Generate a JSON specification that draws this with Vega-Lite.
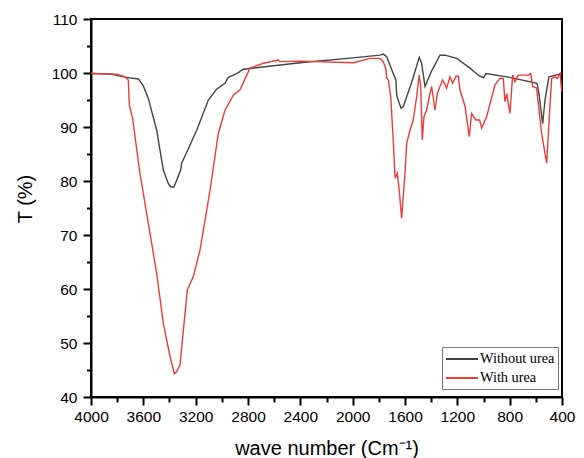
{
  "$schema": "https://vega.github.io/schema/vega-lite/v6.json",
  "width": 471,
  "height": 378,
  "autosize": {"type": "none"},
  "padding": {"left": 91, "top": 19, "right": 22, "bottom": 61},
  "background": "white",
  "config": {
    "view": {"stroke": "black", "strokeWidth": 2},
    "font": "Liberation Sans"
  },
  "data": {
    "values": [
      {"series": "Without urea", "wn": 4000, "T": 99.9},
      {"series": "Without urea", "wn": 3850, "T": 99.8},
      {"series": "Without urea", "wn": 3730, "T": 99.2},
      {"series": "Without urea", "wn": 3638, "T": 98.9},
      {"series": "Without urea", "wn": 3600, "T": 97.6},
      {"series": "Without urea", "wn": 3562, "T": 95.3},
      {"series": "Without urea", "wn": 3498, "T": 89.4},
      {"series": "Without urea", "wn": 3447, "T": 82.0},
      {"series": "Without urea", "wn": 3410, "T": 79.6},
      {"series": "Without urea", "wn": 3391, "T": 78.9},
      {"series": "Without urea", "wn": 3366, "T": 78.9},
      {"series": "Without urea", "wn": 3315, "T": 82.0},
      {"series": "Without urea", "wn": 3307, "T": 83.3},
      {"series": "Without urea", "wn": 3250, "T": 86.3},
      {"series": "Without urea", "wn": 3192, "T": 89.4},
      {"series": "Without urea", "wn": 3103, "T": 95.0},
      {"series": "Without urea", "wn": 3040, "T": 97.0},
      {"series": "Without urea", "wn": 2976, "T": 98.1},
      {"series": "Without urea", "wn": 2951, "T": 99.2},
      {"series": "Without urea", "wn": 2886, "T": 99.9},
      {"series": "Without urea", "wn": 2836, "T": 100.7},
      {"series": "Without urea", "wn": 2403, "T": 101.9},
      {"series": "Without urea", "wn": 2000, "T": 102.8},
      {"series": "Without urea", "wn": 1791, "T": 103.3},
      {"series": "Without urea", "wn": 1766, "T": 103.5},
      {"series": "Without urea", "wn": 1740, "T": 103.0},
      {"series": "Without urea", "wn": 1690, "T": 99.9},
      {"series": "Without urea", "wn": 1669, "T": 98.7},
      {"series": "Without urea", "wn": 1664, "T": 95.9},
      {"series": "Without urea", "wn": 1631, "T": 93.5},
      {"series": "Without urea", "wn": 1613, "T": 93.8},
      {"series": "Without urea", "wn": 1550, "T": 98.2},
      {"series": "Without urea", "wn": 1491, "T": 102.9},
      {"series": "Without urea", "wn": 1473, "T": 101.8},
      {"series": "Without urea", "wn": 1447, "T": 97.5},
      {"series": "Without urea", "wn": 1400, "T": 100.2},
      {"series": "Without urea", "wn": 1333, "T": 103.3},
      {"series": "Without urea", "wn": 1294, "T": 103.3},
      {"series": "Without urea", "wn": 1205, "T": 102.7},
      {"series": "Without urea", "wn": 1103, "T": 100.9},
      {"series": "Without urea", "wn": 1040, "T": 99.6},
      {"series": "Without urea", "wn": 1001, "T": 99.1},
      {"series": "Without urea", "wn": 981, "T": 99.9},
      {"series": "Without urea", "wn": 800, "T": 99.2},
      {"series": "Without urea", "wn": 590, "T": 98.1},
      {"series": "Without urea", "wn": 575, "T": 96.0},
      {"series": "Without urea", "wn": 548, "T": 90.6},
      {"series": "Without urea", "wn": 530, "T": 95.0},
      {"series": "Without urea", "wn": 500, "T": 99.3},
      {"series": "Without urea", "wn": 421, "T": 99.8},
      {"series": "Without urea", "wn": 400, "T": 100.0},

      {"series": "With urea", "wn": 4000, "T": 99.9},
      {"series": "With urea", "wn": 3804, "T": 99.8},
      {"series": "With urea", "wn": 3740, "T": 99.3},
      {"series": "With urea", "wn": 3715, "T": 98.7},
      {"series": "With urea", "wn": 3707, "T": 94.1},
      {"series": "With urea", "wn": 3682, "T": 91.6},
      {"series": "With urea", "wn": 3626, "T": 81.4},
      {"series": "With urea", "wn": 3562, "T": 72.2},
      {"series": "With urea", "wn": 3498, "T": 62.9},
      {"series": "With urea", "wn": 3447, "T": 53.6},
      {"series": "With urea", "wn": 3396, "T": 47.5},
      {"series": "With urea", "wn": 3363, "T": 44.3},
      {"series": "With urea", "wn": 3345, "T": 44.7},
      {"series": "With urea", "wn": 3320, "T": 45.9},
      {"series": "With urea", "wn": 3264, "T": 59.8},
      {"series": "With urea", "wn": 3218, "T": 62.3},
      {"series": "With urea", "wn": 3167, "T": 67.2},
      {"series": "With urea", "wn": 3090, "T": 78.3},
      {"series": "With urea", "wn": 3027, "T": 88.8},
      {"series": "With urea", "wn": 2976, "T": 93.1},
      {"series": "With urea", "wn": 2912, "T": 95.9},
      {"series": "With urea", "wn": 2861, "T": 96.9},
      {"series": "With urea", "wn": 2785, "T": 100.9},
      {"series": "With urea", "wn": 2683, "T": 101.8},
      {"series": "With urea", "wn": 2568, "T": 102.4},
      {"series": "With urea", "wn": 2556, "T": 102.1},
      {"series": "With urea", "wn": 2403, "T": 102.2},
      {"series": "With urea", "wn": 1995, "T": 101.9},
      {"series": "With urea", "wn": 1868, "T": 102.7},
      {"series": "With urea", "wn": 1791, "T": 102.7},
      {"series": "With urea", "wn": 1766, "T": 102.1},
      {"series": "With urea", "wn": 1745, "T": 100.6},
      {"series": "With urea", "wn": 1740, "T": 99.0},
      {"series": "With urea", "wn": 1727, "T": 98.7},
      {"series": "With urea", "wn": 1709, "T": 95.6},
      {"series": "With urea", "wn": 1690, "T": 87.6},
      {"series": "With urea", "wn": 1676, "T": 80.5},
      {"series": "With urea", "wn": 1659, "T": 81.4},
      {"series": "With urea", "wn": 1644, "T": 78.3},
      {"series": "With urea", "wn": 1626, "T": 73.1},
      {"series": "With urea", "wn": 1600, "T": 81.4},
      {"series": "With urea", "wn": 1587, "T": 87.0},
      {"series": "With urea", "wn": 1562, "T": 89.4},
      {"series": "With urea", "wn": 1537, "T": 91.3},
      {"series": "With urea", "wn": 1511, "T": 95.6},
      {"series": "With urea", "wn": 1491, "T": 99.6},
      {"series": "With urea", "wn": 1480, "T": 97.5},
      {"series": "With urea", "wn": 1468, "T": 87.6},
      {"series": "With urea", "wn": 1455, "T": 91.9},
      {"series": "With urea", "wn": 1435, "T": 93.1},
      {"series": "With urea", "wn": 1409, "T": 96.2},
      {"series": "With urea", "wn": 1396, "T": 97.5},
      {"series": "With urea", "wn": 1371, "T": 93.1},
      {"series": "With urea", "wn": 1353, "T": 96.2},
      {"series": "With urea", "wn": 1333, "T": 97.5},
      {"series": "With urea", "wn": 1312, "T": 98.7},
      {"series": "With urea", "wn": 1282, "T": 97.2},
      {"series": "With urea", "wn": 1256, "T": 99.3},
      {"series": "With urea", "wn": 1236, "T": 98.1},
      {"series": "With urea", "wn": 1210, "T": 99.4},
      {"series": "With urea", "wn": 1192, "T": 99.4},
      {"series": "With urea", "wn": 1180, "T": 96.9},
      {"series": "With urea", "wn": 1141, "T": 93.8},
      {"series": "With urea", "wn": 1109, "T": 88.2},
      {"series": "With urea", "wn": 1091, "T": 92.5},
      {"series": "With urea", "wn": 1058, "T": 91.3},
      {"series": "With urea", "wn": 1030, "T": 91.3},
      {"series": "With urea", "wn": 1014, "T": 89.8},
      {"series": "With urea", "wn": 976, "T": 91.9},
      {"series": "With urea", "wn": 912, "T": 97.8},
      {"series": "With urea", "wn": 874, "T": 99.0},
      {"series": "With urea", "wn": 849, "T": 99.0},
      {"series": "With urea", "wn": 836, "T": 94.7},
      {"series": "With urea", "wn": 823, "T": 96.2},
      {"series": "With urea", "wn": 798, "T": 92.5},
      {"series": "With urea", "wn": 777, "T": 99.6},
      {"series": "With urea", "wn": 760, "T": 98.4},
      {"series": "With urea", "wn": 734, "T": 99.6},
      {"series": "With urea", "wn": 658, "T": 99.6},
      {"series": "With urea", "wn": 640, "T": 99.9},
      {"series": "With urea", "wn": 624, "T": 97.5},
      {"series": "With urea", "wn": 594, "T": 97.2},
      {"series": "With urea", "wn": 556, "T": 88.8},
      {"series": "With urea", "wn": 517, "T": 83.3},
      {"series": "With urea", "wn": 497, "T": 91.9},
      {"series": "With urea", "wn": 479, "T": 99.0},
      {"series": "With urea", "wn": 454, "T": 99.3},
      {"series": "With urea", "wn": 436, "T": 99.0},
      {"series": "With urea", "wn": 415, "T": 99.9},
      {"series": "With urea", "wn": 402, "T": 96.6}
    ]
  },
  "mark": {"type": "line", "strokeWidth": 1.4},
  "encoding": {
    "x": {
      "field": "wn",
      "type": "quantitative",
      "scale": {"domain": [400, 4000], "reverse": true, "nice": false, "zero": false},
      "axis": {
        "values": [400, 600, 800, 1000, 1200, 1400, 1600, 1800, 2000, 2200, 2400, 2600, 2800, 3000, 3200, 3400, 3600, 3800, 4000],
        "format": "d",
        "labelExpr": "datum.value % 400 === 0 ? datum.label : ''",
        "grid": false,
        "domainColor": "black",
        "domainWidth": 2,
        "tickColor": "black",
        "tickWidth": 2,
        "tickSize": {"condition": {"test": "datum.value % 400 === 0", "value": 8}, "value": 5},
        "labelFontSize": 15.5,
        "labelColor": "black",
        "labelPadding": 4.5,
        "labelFlush": false,
        "labelOverlap": false,
        "title": "wave number (Cm⁻¹)",
        "titleFontSize": 20,
        "titleFontWeight": "normal",
        "titleColor": "black",
        "titleX": 235.5,
        "titleY": 57,
        "titleBaseline": "alphabetic",
        "titleAlign": "center"
      }
    },
    "y": {
      "field": "T",
      "type": "quantitative",
      "scale": {"domain": [40, 110], "nice": false, "zero": false},
      "axis": {
        "values": [40, 45, 50, 55, 60, 65, 70, 75, 80, 85, 90, 95, 100, 105, 110],
        "labelExpr": "datum.value % 10 === 0 ? datum.label : ''",
        "grid": false,
        "domainColor": "black",
        "domainWidth": 2,
        "tickColor": "black",
        "tickWidth": 2,
        "tickSize": {"condition": {"test": "datum.value % 10 === 0", "value": 8}, "value": 4.5},
        "labelFontSize": 15.5,
        "labelColor": "black",
        "labelPadding": 6,
        "labelFlush": false,
        "labelOverlap": false,
        "title": "T (%)",
        "titleFontSize": 20,
        "titleFontWeight": "normal",
        "titleColor": "black",
        "titleX": -66,
        "titleY": 179.5,
        "titleAngle": -90,
        "titleBaseline": "middle",
        "titleAlign": "center"
      }
    },
    "color": {
      "field": "series",
      "type": "nominal",
      "scale": {"domain": ["Without urea", "With urea"], "range": ["#444444", "#f03a3a"]},
      "legend": {
        "orient": "none",
        "legendX": 351,
        "legendY": 328,
        "title": null,
        "symbolType": "M-2,0H2",
        "symbolSize": 256,
        "symbolStrokeWidth": 2,
        "symbolOffset": 8,
        "labelFont": "Liberation Serif",
        "labelFontSize": 14.3,
        "labelColor": "black",
        "labelOffset": 9,
        "strokeColor": "#777777",
        "fillColor": "white",
        "padding": 3,
        "rowPadding": 2
      }
    }
  }
}
